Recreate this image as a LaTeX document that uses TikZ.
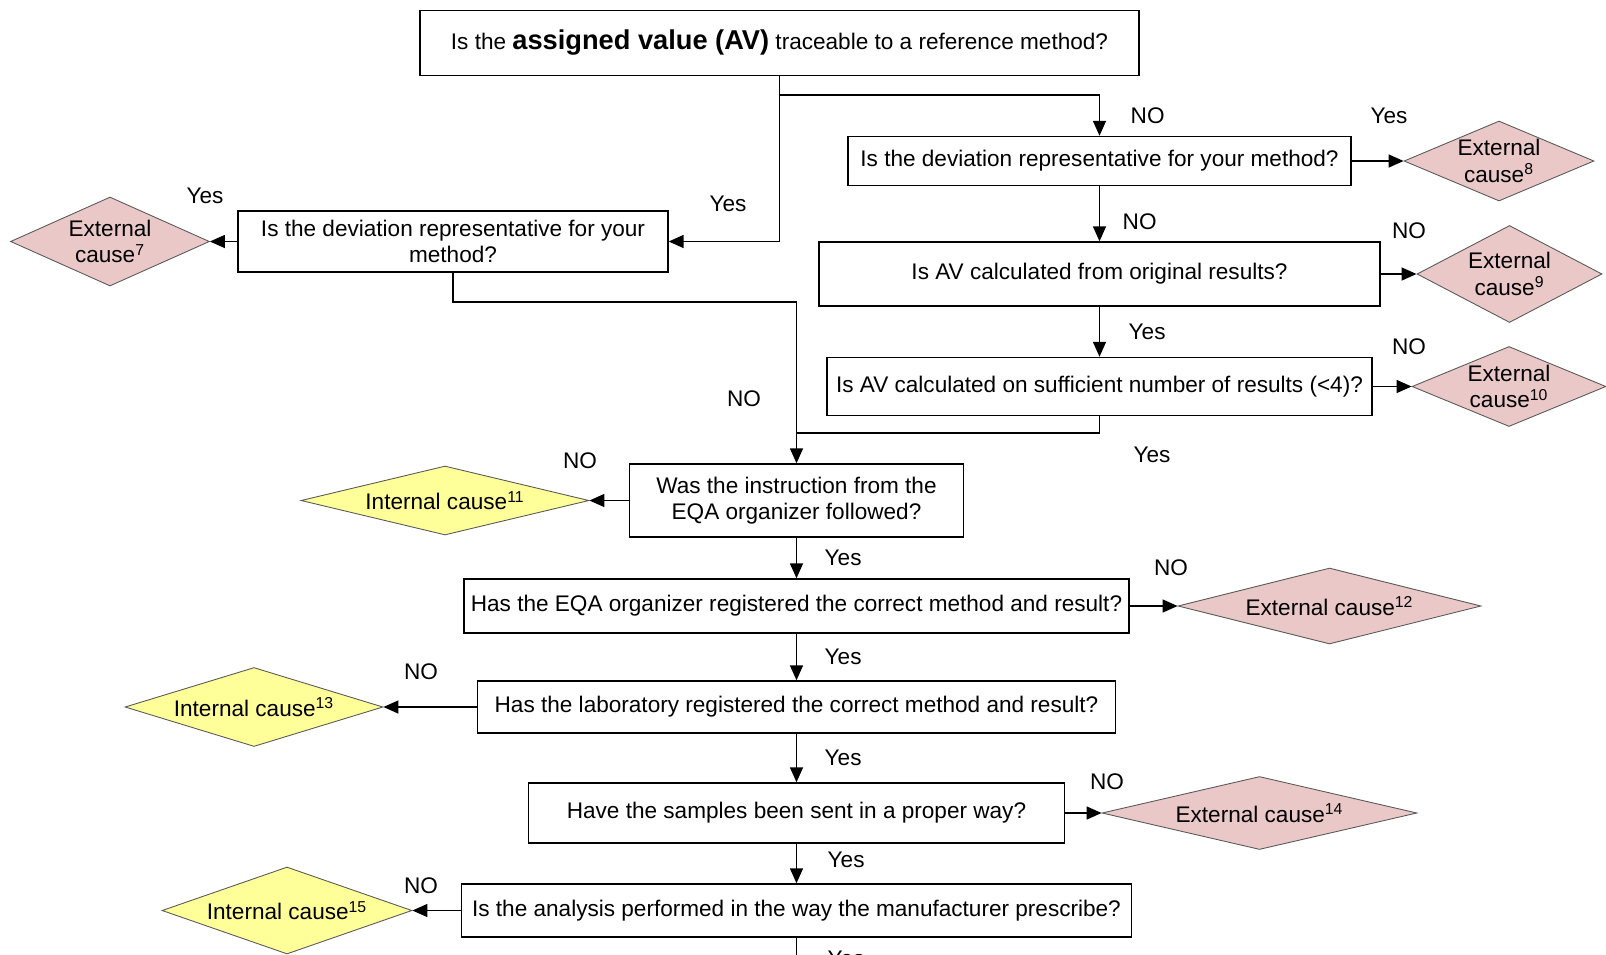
\documentclass[tikz,border=0pt]{standalone}
\usepackage{fontspec}
\setmainfont{Liberation Sans}
\usepackage{tikz}
\usetikzlibrary{shapes.geometric}
\usetikzlibrary{positioning}
\usetikzlibrary{arrows.meta}
\definecolor{causered}{RGB}{235,200,200}
\definecolor{causeyellow}{RGB}{255,255,153}
\tikzset{
    every node/.style={ % Same text size everywhere
        font=\fontsize{12.85}{15}\selectfont
    },
    question/.style={ % Sets the properties for each question box
        draw,
        line width=0.8pt,
        fill=white,
        align=center,
        inner sep=0pt
    },
    cause/.style={ % Diamond, its text sits in the middle as a label
        diamond,
        draw=black!65,
        line width=0.5pt,
        inner sep=0pt,
        label={[align=center]center:#1}
    },
    external/.style={cause={#1}, fill=causered},
    internal/.style={cause={#1}, fill=causeyellow},
    answer/.style={inner sep=0pt}, % Yes / NO
    line/.style={draw, line width=0.8pt},
    flow/.style={line, -{Triangle[length=0.3cm,width=0.26cm]}},
    every edge/.style={ % Sets the properties for each connector
        flow
    }
}

\begin{document}
\begin{tikzpicture}[x=0.02cm, y=-0.02cm]
            \useasboundingbox (0,0) rectangle (1606,954);

            \node[question, minimum width=14.38cm, minimum height=1.3cm] (av) at (779.5,43)
                {Is the {\fontsize{15.5}{17}\selectfont\bfseries assigned value (AV)} traceable to a reference method?};

            % right column
            \node[question, minimum width=10.06cm, minimum height=0.98cm] (dev2) at (1099.5,161) {Is the deviation representative for your method?};
            \node[question, minimum width=11.22cm, minimum height=1.28cm] (orig) at (1099.5,274) {Is AV calculated from original results?};
            \node[question, minimum width=10.9cm, minimum height=1.16cm] (suff) at (1099.5,386.5) {Is AV calculated on sufficient number of results (<4)?};
            \node[external={External\\cause\textsuperscript{8}}, minimum width=3.8cm, minimum height=1.6cm] (ext8) at (1499,161) {};
            \node[external={External\\cause\textsuperscript{9}}, minimum width=3.7cm, minimum height=1.94cm] (ext9) at (1509.5,274) {};
            \node[external={External\\cause\textsuperscript{10}}, minimum width=3.88cm, minimum height=1.6cm] (ext10) at (1509,386.5) {};

            % left branch
            \node[question, minimum width=8.6cm, minimum height=1.22cm] (dev1) at (453,241.5) {Is the deviation representative for your\\method?};
            \node[external={External\\cause\textsuperscript{7}}, minimum width=3.98cm, minimum height=1.78cm] (ext7) at (110,241.5) {};

            % main column
            \node[question, minimum width=6.68cm, minimum height=1.46cm] (instr) at (796.5,500.5) {Was the instruction from the\\EQA organizer followed?};
            \node[question, minimum width=13.3cm, minimum height=1.08cm] (eqareg) at (796.5,606) {Has the EQA organizer registered the correct method and result?};
            \node[question, minimum width=12.76cm, minimum height=1.04cm] (labreg) at (796.5,707) {Has the laboratory registered the correct method and result?};
            \node[question, minimum width=10.72cm, minimum height=1.2cm] (samples) at (796.5,813) {Have the samples been sent in a proper way?};
            \node[question, minimum width=13.4cm, minimum height=1.06cm] (analysis) at (796.5,910.5) {Is the analysis performed in the way the manufacturer prescribe?};

            \node[internal={Internal cause\textsuperscript{11}}, minimum width=5.76cm, minimum height=1.38cm] (int11) at (445,500.5) {};
            \node[external={External cause\textsuperscript{12}}, minimum width=6.06cm, minimum height=1.52cm] (ext12) at (1329.5,606) {};
            \node[internal={Internal cause\textsuperscript{13}}, minimum width=5.16cm, minimum height=1.58cm] (int13) at (254,707) {};
            \node[external={External cause\textsuperscript{14}}, minimum width=6.3cm, minimum height=1.46cm] (ext14) at (1259.5,813) {};
            \node[internal={Internal cause\textsuperscript{15}}, minimum width=5.0cm, minimum height=1.74cm] (int15) at (287,910.5) {};

            \coordinate (split) at (779.5,95);
            \coordinate (dev1turn) at (796.5,302);
            \coordinate (suffturn) at (796.5,433);
            \coordinate (next) at (796.5,990);

            \draw[line] (av.south) -- (split);
            \draw[flow] (split) -| node[answer, pos=0.75, right=0.61cm] {NO} (dev2);
            \draw[flow] (split) |- (dev1);
            \draw[flow] (dev1.south) |- (dev1turn) -- (instr);
            \draw[line] (suff.south) |- (suffturn);

            \draw (dev2) edge (ext8);
            \draw (dev2) edge node[answer, pos=0.65, right=0.45cm] {NO} (orig);
            \draw (orig) edge (ext9);
            \draw (orig) edge node[answer, right=0.57cm] {Yes} (suff);
            \draw (suff) edge (ext10);
            \draw (dev1) edge (ext7);

            \draw (instr) edge (int11);
            \draw (instr) edge node[answer, right=0.55cm] {Yes} (eqareg);
            \draw (eqareg) edge (ext12);
            \draw (eqareg) edge node[answer, right=0.55cm] {Yes} (labreg);
            \draw (labreg) edge (int13);
            \draw (labreg) edge node[answer, right=0.55cm] {Yes} (samples);
            \draw (samples) edge (ext14);
            \draw (samples) edge node[answer, pos=0.4, right=0.61cm] {Yes} (analysis);
            \draw (analysis) edge (int15);
            \draw (analysis) edge node[answer, pos=0.4, right=0.61cm] {Yes} (next);

            % answers away from their connectors
            \node[answer] (a1) at (728,204) {Yes};
            \node[answer] (a2) at (205,196) {Yes};
            \node[answer] (a3) at (1389,116) {Yes};
            \node[answer] (a4) at (1409,231) {NO};
            \node[answer] (a5) at (1409,347) {NO};
            \node[answer] (a6) at (744,399) {NO};
            \node[answer] (a7) at (1152,455) {Yes};
            \node[answer] (a8) at (580,461) {NO};
            \node[answer] (a9) at (1171,568) {NO};
            \node[answer] (a10) at (421,672) {NO};
            \node[answer] (a11) at (1107,782) {NO};
            \node[answer] (a12) at (421,886) {NO};
\end{tikzpicture}
\end{document}
